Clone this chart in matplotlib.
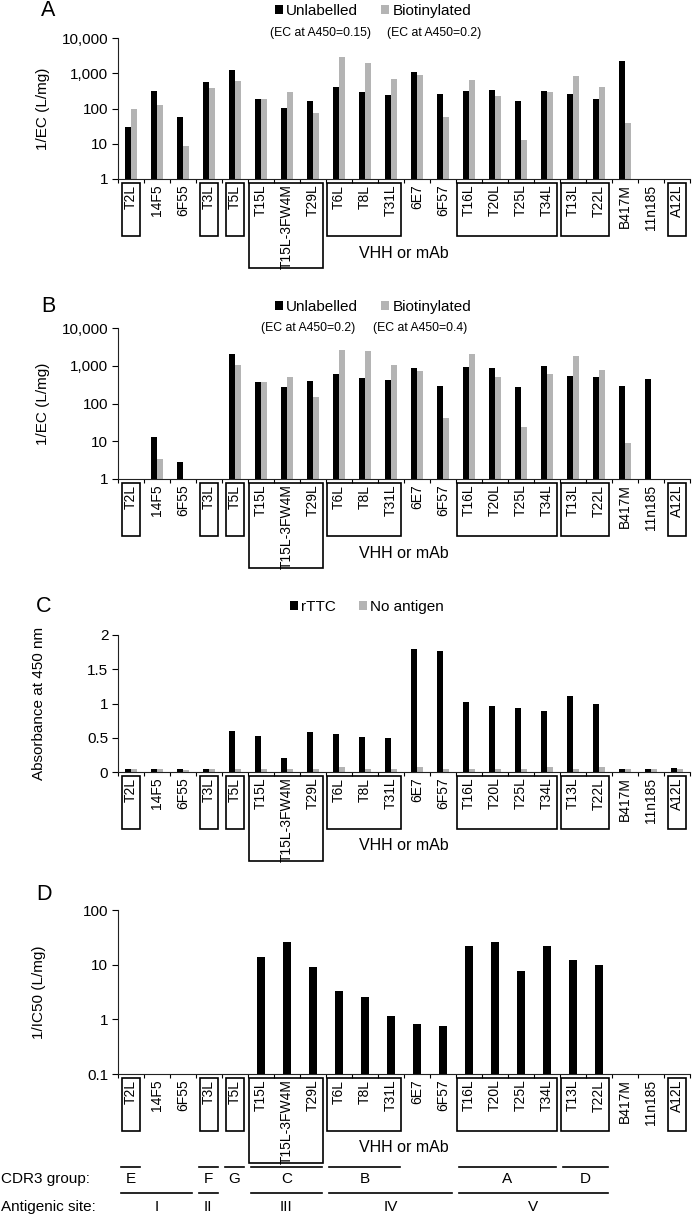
import numpy as np
import matplotlib
matplotlib.use("Agg")
import matplotlib.pyplot as plt
from matplotlib.patches import Patch, Rectangle
from matplotlib.lines import Line2D
import matplotlib.transforms as mtransforms
from matplotlib.ticker import FixedLocator, FixedFormatter

plt.rcParams['font.family'] = ['Liberation Sans', 'DejaVu Sans']

nan = np.nan
names = ['T2L', '14F5', '6F55', 'T3L', 'T5L', 'T15L', 'T15L-3FW4M', 'T29L',
         'T6L', 'T8L', 'T31L', '6E7', '6F57', 'T16L', 'T20L', 'T25L', 'T34L',
         'T13L', 'T22L', 'B417M', '11n185', 'A12L']

# panel A: 1/EC (L/mg)
unlab_a = [29, 320, 56, 550, 1230, 180, 105, 166, 395, 285, 240, 1050, 250,
           320, 330, 163, 320, 250, 190, 2200, nan, nan]
biot_a = [95, 125, 7.5, 370, 610, 180, 300, 73, 2850, 2000, 680, 865, 58,
          640, 225, 12, 292, 810, 395, 38, nan, nan]

# panel B: 1/EC (L/mg)
unlab_b = [nan, 12, 1.9, nan, 1990, 360, 267, 390, 590, 460, 425, 850, 295,
           900, 850, 277, 1000, 530, 500, 295, 435, nan]
biot_b = [nan, 2.4, nan, nan, 1020, 360, 500, 145, 2570, 2520, 1040, 720, 41,
          1990, 490, 23, 590, 1790, 780, 8, nan, nan]

# panel C: absorbance at 450 nm
rttc = [0.05, 0.04, 0.04, 0.05, 0.60, 0.53, 0.21, 0.58, 0.55, 0.505, 0.49,
        1.80, 1.77, 1.02, 0.97, 0.94, 0.89, 1.11, 0.99, 0.05, 0.05, 0.06]
no_antigen = [0.04, 0.04, 0.03, 0.04, 0.05, 0.05, 0.04, 0.04, 0.07, 0.05, 0.05,
              0.07, 0.04, 0.05, 0.05, 0.05, 0.07, 0.05, 0.07, 0.04, 0.04, 0.04]

# panel D: 1/IC50 (L/mg)
ic50_inv = [nan, nan, nan, nan, nan, 14.0, 26, 8.8, 3.2, 2.45, 1.03, 0.72,
            0.64, 21.6, 26, 7.7, 22, 12.2, 9.6, nan, nan, nan]

log_ticks_ec = [1, 10, 100, 1000, 10000]
log_labels_ec = ['1', '10', '100', '1,000', '10,000']
log_ticks_ic = [0.1, 1, 10, 100]
log_labels_ic = ['0.1', '1', '10', '100']
abs_ticks = [0, 0.5, 1, 1.5, 2]
abs_labels = ['0', '0.5', '1', '1.5', '2']

# boxed label groups (first, last index), the T15L group has the tall box
box_groups = [(0, 0), (3, 3), (4, 4), (5, 7), (8, 10), (13, 16), (17, 18), (21, 21)]
cdr3_groups = [('E', 0, 0), ('F', 3, 3), ('G', 4, 4), ('C', 5, 7),
               ('B', 8, 10), ('A', 13, 16), ('D', 17, 18)]
site_groups = [('I', 0, 2), ('II', 3, 3), ('III', 5, 7), ('IV', 8, 12), ('V', 13, 18)]

W, H = 692, 1218
fig = plt.figure(figsize=(W / 100, H / 100), dpi=100)
GRAY = '#b4b4b4'


def fx(px):
    return px / W


def fy(px):
    return 1 - px / H


X0, X1 = 118, 690
x = np.arange(len(names))
ylab_x = lambda px: (px - X0) / (X1 - X0)


def make_axes(top, bottom):
    ax = fig.add_axes([fx(X0), fy(bottom), (X1 - X0) / W, (bottom - top) / H])
    for s in ['top', 'right']:
        ax.spines[s].set_visible(False)
    for s in ['left', 'bottom']:
        ax.spines[s].set_linewidth(0.8)
        ax.spines[s].set_color('#222222')
    ax.set_xlim(-0.5, len(names) - 0.5)
    ax.set_xticks(x)
    ax.set_xticklabels(names, rotation=90, fontsize=10, va='top', ha='center')
    ax.tick_params(axis='x', which='major', length=0, pad=4)
    ax.set_xticks(np.arange(-0.5, len(names)), minor=True)
    ax.tick_params(axis='x', which='minor', length=3, direction='out', width=0.8)
    ax.tick_params(axis='y', length=4, width=0.8, labelsize=11, pad=3)
    return ax


def label_boxes(ax, axis_px):
    tr = mtransforms.blended_transform_factory(ax.transData, fig.transFigure)
    for a, b in box_groups:
        if a == b:
            left, right = a - 0.36, b + 0.36
        else:
            left, right = a - 0.46, b + 0.38
        deep = 89 if (a, b) == (5, 7) else 57
        y_top = fy(axis_px + 4)
        y_bot = fy(axis_px + deep)
        ax.add_patch(Rectangle((left, y_bot), right - left, y_top - y_bot,
                               transform=tr, fill=False, lw=1.2,
                               edgecolor='black', clip_on=False))
    fig.text(fx((X0 + X1) / 2), fy(axis_px + 74), 'VHH or mAb',
             ha='center', va='center', fontsize=11.5)


def legend(ax, labels, cx, cy):
    handles = [Patch(facecolor='black'), Patch(facecolor=GRAY)]
    ax.legend(handles, labels, loc='center', bbox_to_anchor=(fx(cx), fy(cy)),
              bbox_transform=fig.transFigure, ncol=2, frameon=False,
              fontsize=11, handlelength=0.55, handleheight=0.55,
              handletextpad=0.2, columnspacing=1.5, borderpad=0, borderaxespad=0)


def panel_letter(letter, px, py):
    fig.text(fx(px), fy(py), letter, fontsize=15.5, ha='center', va='center')


def log_axis(ax, ticks, labels, lo, hi):
    ax.set_yscale('log')
    ax.set_ylim(lo, hi)
    ax.yaxis.set_major_locator(FixedLocator(ticks))
    ax.yaxis.set_major_formatter(FixedFormatter(labels))
    ax.yaxis.set_minor_locator(FixedLocator([]))


# ---- A
axA = make_axes(38, 179)
axA.bar(x - 0.12, unlab_a, 0.24, bottom=1, color='black')
axA.bar(x + 0.12, biot_a, 0.24, bottom=1, color=GRAY)
log_axis(axA, log_ticks_ec, log_labels_ec, 1, 10000)
axA.set_ylabel('1/EC (L/mg)', fontsize=11)
axA.yaxis.set_label_coords(ylab_x(50), 0.5)
label_boxes(axA, 179)
legend(axA, ['Unlabelled', 'Biotinylated'], 373, 11)
fig.text(fx(321), fy(33), '(EC at A450=0.15)', ha='center', va='center', fontsize=8.8)
fig.text(fx(434), fy(33), '(EC at A450=0.2)', ha='center', va='center', fontsize=8.8)
panel_letter('A', 48, 11)

# ---- B
axB = make_axes(328, 479)
axB.bar(x - 0.12, unlab_b, 0.24, bottom=1, color='black')
axB.bar(x + 0.12, biot_b, 0.24, bottom=1, color=GRAY)
log_axis(axB, log_ticks_ec, log_labels_ec, 1, 10000)
axB.set_ylabel('1/EC (L/mg)', fontsize=11)
axB.yaxis.set_label_coords(ylab_x(50), 0.5)
label_boxes(axB, 479)
legend(axB, ['Unlabelled', 'Biotinylated'], 373, 307)
fig.text(fx(308), fy(328), '(EC at A450=0.2)', ha='center', va='center', fontsize=8.8)
fig.text(fx(420), fy(328), '(EC at A450=0.4)', ha='center', va='center', fontsize=8.8)
panel_letter('B', 48, 307)

# ---- C
axC = make_axes(635, 772)
axC.bar(x - 0.12, rttc, 0.24, color='black')
axC.bar(x + 0.12, no_antigen, 0.24, color=GRAY)
axC.set_ylim(0, 2)
axC.set_yticks(abs_ticks)
axC.set_yticklabels(abs_labels)
axC.set_ylabel('Absorbance at 450 nm', fontsize=11)
axC.yaxis.set_label_coords(ylab_x(46), 0.5)
label_boxes(axC, 772)
legend(axC, ['rTTC', 'No antigen'], 367, 607)
panel_letter('C', 44, 607)

# ---- D
axD = make_axes(910, 1074)
axD.bar(x, ic50_inv, 0.3, bottom=0.1, color='black')
log_axis(axD, log_ticks_ic, log_labels_ic, 0.1, 100)
axD.set_ylabel('1/IC50 (L/mg)', fontsize=11)
axD.yaxis.set_label_coords(ylab_x(46), 0.5)
label_boxes(axD, 1074)
panel_letter('D', 44, 895)

# ---- CDR3 group / antigenic site annotations
trD = mtransforms.blended_transform_factory(axD.transData, fig.transFigure)
fig.text(fx(1), fy(1179), 'CDR3 group:', ha='left', va='center', fontsize=11)
fig.text(fx(1), fy(1207), 'Antigenic site:', ha='left', va='center', fontsize=11)
for lab, a, b in cdr3_groups:
    l, r = a - 0.4, b + 0.35
    axD.add_line(Line2D([l, r], [fy(1167), fy(1167)], transform=trD, color='black',
                        lw=1.2, clip_on=False))
    axD.text((l + r) / 2, fy(1179), lab, transform=trD, ha='center', va='center', fontsize=11)
for lab, a, b in site_groups:
    l, r = a - 0.4, b + 0.35
    axD.add_line(Line2D([l, r], [fy(1193), fy(1193)], transform=trD, color='black',
                        lw=1.2, clip_on=False))
    axD.text((l + r) / 2, fy(1207), lab, transform=trD, ha='center', va='center', fontsize=11)

fig.savefig('out.png', dpi=100)
